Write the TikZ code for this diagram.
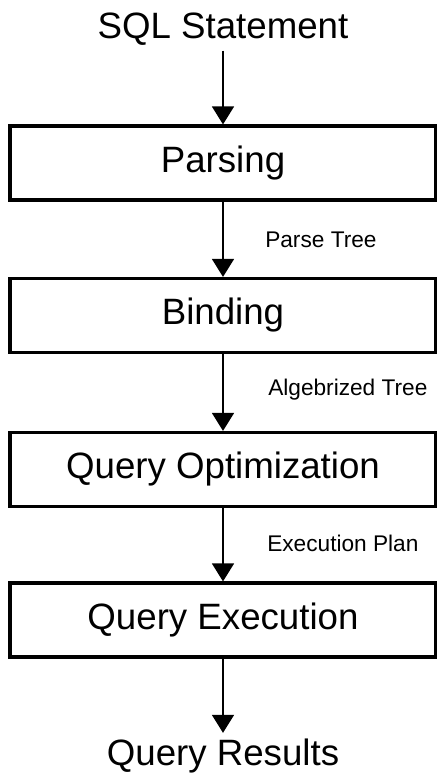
\documentclass[tikz,border=0pt]{standalone}
\usepackage{fontspec}
\setmainfont{Liberation Sans}
\usepackage{xcolor}
\usepackage{tikz}
\usetikzlibrary{arrows.meta}
\definecolor{ink}{HTML}{000000}
\tikzset{
  stage/.style={draw=ink, line width=2.4pt, minimum width=319.5pt, minimum height=55.5pt, inner sep=0pt, font=\fontsize{27.5}{32}\selectfont},
  ends/.style={text=ink, inner sep=4pt, font=\fontsize{27.5}{32}\selectfont},
  arr/.style={draw=ink, line width=1.2pt, -{Triangle[width=16.5pt,length=13.5pt]}},
  lbl/.style={text=ink, inner sep=0pt, anchor=west, font=\fontsize{17}{20}\selectfont}
}
\begin{document}
\begin{tikzpicture}[x=0.75pt,y=-0.75pt]
  \useasboundingbox (0,0) rectangle (436,775);

  \node[ends, anchor=base] (sql) at (223,38) {SQL Statement};
  \node[stage] (parse) at (223,163) {Parsing};
  \node[stage] (bind) at (223,315.5) {Binding};
  \node[stage] (opt) at (223,469.5) {Query Optimization};
  \node[stage] (exec) at (223,620) {Query Execution};
  \node[ends, anchor=base] (res) at (223,765) {Query Results};

  \draw[arr] (sql) -- (parse);
  \draw[arr] (parse) -- (bind);
  \draw[arr] (bind) -- (opt);
  \draw[arr] (opt) -- (exec);
  \draw[arr] (exec) -- (res);

  \node[lbl] (ptree) at (265,240) {Parse Tree};
  \node[lbl] (atree) at (268,390) {Algebrized Tree};
  \node[lbl] (eplan) at (267,543) {Execution Plan};
\end{tikzpicture}
\end{document}
